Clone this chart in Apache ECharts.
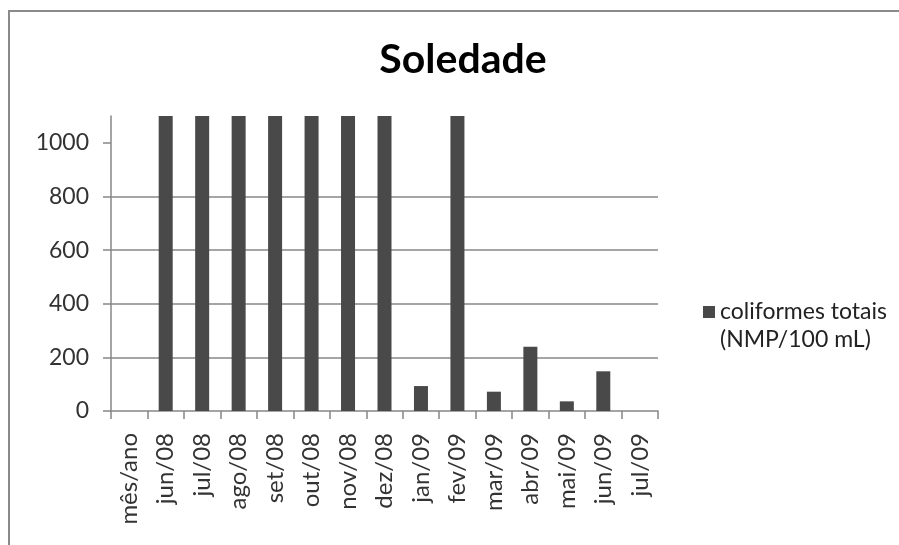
<!DOCTYPE html>
<html>
<head>
<meta charset="utf-8">
<script src="https://cdn.jsdelivr.net/npm/echarts@6/dist/echarts.min.js"></script>
<style>
  html, body { margin: 0; padding: 0; background: #fff; overflow: hidden; width: 899px; height: 545px; }
  #chart { position: absolute; left: 0; top: 0; width: 899px; height: 545px; }
  #frame { position: absolute; left: 8px; top: 10px; width: 1000px; height: 700px;
           border-top: 2px solid #8a8a8a; border-left: 2px solid #8a8a8a; pointer-events: none; }
</style>
</head>
<body>
<div id="chart"></div>
<div id="frame"></div>
<script>
// Monthly total coliforms at Soledade
const months = ['mês/ano', 'jun/08', 'jul/08', 'ago/08', 'set/08', 'out/08', 'nov/08',
                'dez/08', 'jan/09', 'fev/09', 'mar/09', 'abr/09', 'mai/09', 'jun/09', 'jul/09'];
const coliformes = [null, 1100, 1100, 1100, 1100, 1100, 1100, 1100, 93, 1100, 72, 240, 36, 148, null];
const yTicks = [0, 200, 400, 600, 800, 1000];
const seriesName = 'coliformes totais (NMP/100 mL)';
const legendLines = ['coliformes totais', '(NMP/100 mL)'];

const font = 'Lato, "Open Sans", sans-serif';
const grey = '#878787';

const chart = echarts.init(document.getElementById('chart'));
chart.setOption({
  animation: false,
  title: {
    text: 'Soledade',
    left: 458,
    top: 34,
    textAlign: 'center',
    textStyle: { fontFamily: font, fontWeight: 'bold', fontSize: 41, color: '#000' }
  },
  legend: {
    data: [seriesName],
    left: 698,
    top: 265,
    icon: 'rect',
    itemWidth: 12,
    itemHeight: 12,
    itemGap: 6,
    // a blank first line keeps the marker level with the first text line
    formatter: () => ' \n' + legendLines.join('\n'),
    textStyle: { fontFamily: font, fontSize: 23, color: '#222', lineHeight: 28 }
  },
  grid: { left: 111, right: 241, top: 116, bottom: 134 },
  xAxis: {
    type: 'category',
    data: months,
    axisLine: { lineStyle: { color: grey, width: 1.5 } },
    axisTick: { show: true, length: 8, lineStyle: { color: grey, width: 1.5 } },
    axisLabel: { rotate: 90, interval: 0, margin: 22, fontFamily: font, fontSize: 24, color: '#333' }
  },
  yAxis: {
    type: 'value',
    min: 0,
    max: 1100,
    interval: 200,
    axisLine: { show: true, lineStyle: { color: grey, width: 1.5 } },
    axisTick: { show: true, length: 8, customValues: yTicks, lineStyle: { color: grey, width: 1.5 } },
    axisLabel: {
      margin: 22, customValues: yTicks, fontFamily: font, fontSize: 23, color: '#333',
      formatter: (v) => String(v)
    },
    splitLine: { show: true, showMaxLine: false, showMinLine: false, lineStyle: { color: grey, width: 1.5 } }
  },
  series: [{
    name: seriesName,
    type: 'bar',
    data: coliformes,
    barWidth: 14,
    itemStyle: { color: '#494949' }
  }]
});
</script>
</body>
</html>
